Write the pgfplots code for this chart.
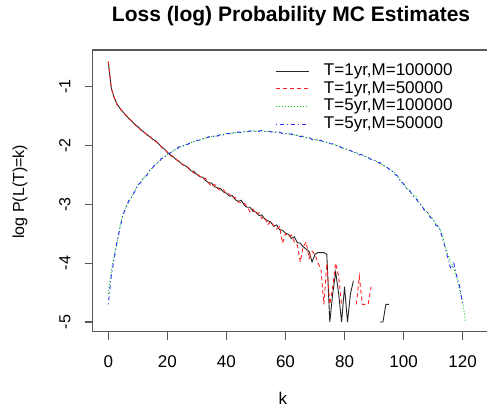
\documentclass[border=0pt]{standalone}
\usepackage{fontspec}
\setmainfont{Liberation Sans}
\usepackage{pgfplots}
\pgfplotsset{compat=1.18}
\definecolor{rgreen}{RGB}{0,205,0}
\definecolor{rblue}{RGB}{40,40,255}
\definecolor{rred}{RGB}{255,30,30}

\begin{document}
\begin{tikzpicture}
\useasboundingbox (0pt,0pt) rectangle (487pt,408pt);
\clip (0pt,0pt) rectangle (487pt,408pt);
\begin{axis}[
    at={(92.7pt,76.3pt)}, anchor=south west,
    scale only axis, width=402.3pt, height=281.7pt,
    xmin=-5.28, xmax=130.95, ymin=-5.165, ymax=-0.376,
    axis line style={black!65, line width=1.2pt},
    tick style={black!65, line width=1.2pt},
    tick align=outside, major tick length=8pt,
    xtick pos=lower, ytick pos=left,
    xtick={0,20,40,60,80,100,120},
    ytick={-5,-4,-3,-2,-1},
    xticklabels={0,20,40,60,80,100,120},
    yticklabels={-5,-4,-3,-2,-1},
    xticklabel style={font=\fontsize{17}{20}\selectfont, anchor=north, inner sep=0pt, yshift=-16pt},
    yticklabel style={font=\fontsize{16}{19}\selectfont, xshift=-14pt, rotate=90, anchor=south, inner sep=0pt},
    title={Loss (log) Probability MC Estimates},
    title style={at={(axis description cs:0.493,1.100)}, anchor=center, inner sep=0pt, font=\bfseries\fontsize{21}{25}\selectfont},
    xlabel={k},
    xlabel style={at={(axis description cs:0.473,-0.236)}, anchor=center, font=\fontsize{17}{20}\selectfont},
    ylabel={log P(L(T)=k)},
    ylabel style={at={(axis description cs:-0.1807,0.497)}, anchor=center, font=\fontsize{16}{19}\selectfont},
    unbounded coords=jump,
    legend cell align=left,
    legend image code/.code={\draw[#1, line width=1pt] (0pt,0pt) -- (33pt,0pt);},
    legend style={draw=none, fill=none, at={(axis description cs:0.4556,0.9538)}, anchor=north west,
        inner sep=0pt, outer sep=0pt, row sep=1.7pt,
        nodes={inner sep=0pt, text height=12.5pt, text depth=3.5pt, font=\fontsize{17}{20}\selectfont},
        /tikz/every odd column/.style={column sep=14pt}},
]
% T=1yr, M=100000
\addplot[black!85, line width=0.9pt, no marks] coordinates {
(0,-0.58) (1,-1.02) (2,-1.19) (3,-1.30) (4,-1.37) (5,-1.43) (6,-1.49) (7,-1.54) (8,-1.59) (9,-1.64)
(10,-1.68) (11,-1.73) (12,-1.77) (13,-1.81) (14,-1.85) (15,-1.89) (16,-1.92) (17,-1.97) (18,-2.02) (19,-2.06)
(20,-2.12) (21,-2.16) (22,-2.19) (23,-2.24) (24,-2.27) (25,-2.32) (26,-2.34) (27,-2.38) (28,-2.43) (29,-2.44)
(30,-2.49) (31,-2.53) (32,-2.54) (33,-2.60) (34,-2.63) (35,-2.64) (36,-2.70) (37,-2.72) (38,-2.73) (39,-2.79)
(40,-2.81) (41,-2.86) (42,-2.85) (43,-2.92) (44,-2.95) (45,-2.93) (46,-3.01) (47,-3.05) (48,-3.05) (49,-3.12)
(50,-3.13) (51,-3.19) (52,-3.18) (53,-3.25) (54,-3.28) (55,-3.30) (56,-3.37) (57,-3.35) (58,-3.43) (59,-3.44)
(60,-3.49) (61,-3.51) (62,-3.58) (63,-3.55) (64,-3.65) (65,-3.66) (66,-3.72) (67,-3.76) (68,-3.80) (69,-3.98)
(70,-3.85) (71,-3.82) (72,-3.82) (73,-3.82) (74,-3.85) (75,-5.00) (76,-4.52) (77,-4.15) (78,-4.52) (79,-5.00)
(80,-4.40) (81,-5.00) (82,-4.52) (83,-4.30) (84,nan) (91,nan) (92,-5.00) (93,-5.00) (94,-4.70) (95,-4.70)
};
\addlegendentry{T=1yr,M=100000}
% T=1yr, M=50000
\addplot[color=rred, line width=0.9pt, dash pattern=on 4pt off 3pt, no marks] coordinates {
(0,-0.57) (1,-1.03) (2,-1.18) (3,-1.31) (4,-1.37) (5,-1.44) (6,-1.48) (7,-1.55) (8,-1.58) (9,-1.65)
(10,-1.68) (11,-1.74) (12,-1.76) (13,-1.82) (14,-1.84) (15,-1.90) (16,-1.93) (17,-1.96) (18,-2.03) (19,-2.07)
(20,-2.11) (21,-2.17) (22,-2.20) (23,-2.23) (24,-2.29) (25,-2.31) (26,-2.36) (27,-2.37) (28,-2.42) (29,-2.47)
(30,-2.48) (31,-2.52) (32,-2.57) (33,-2.56) (34,-2.64) (35,-2.70) (36,-2.66) (37,-2.73) (38,-2.76) (39,-2.75)
(40,-2.83) (41,-2.82) (42,-2.89) (43,-2.88) (44,-2.96) (45,-2.97) (46,-2.98) (47,-3.04) (48,-3.13) (49,-3.08)
(50,-3.16) (51,-3.14) (52,-3.24) (53,-3.22) (54,-3.35) (55,-3.29) (56,-3.36) (57,-3.42) (58,-3.38) (59,-3.66)
(60,-3.50) (61,-3.55) (62,-3.52) (63,-3.64) (64,-3.69) (65,-3.98) (66,-3.72) (67,-3.64) (68,-3.92) (69,-3.80)
(70,-3.85) (71,-4.00) (72,-4.10) (73,-4.70) (74,-4.00) (75,-4.70) (76,-4.40) (77,-4.00) (78,-4.22) (79,-4.70)
(80,nan) (83,nan) (84,-4.70) (85,-4.22) (86,-4.70) (87,-4.70) (88,-4.70) (89,-4.40)
};
\addlegendentry{T=1yr,M=50000}
% T=5yr, M=100000
\addplot[color=rgreen, line width=0.9pt, dash pattern=on 1pt off 2pt, no marks] coordinates {
(0,-4.52) (1,-4.15) (2,-3.87) (3,-3.66) (4,-3.36) (5,-3.16) (6,-3.04) (7,-2.96) (8,-2.86) (9,-2.77)
(10,-2.68) (11,-2.62) (12,-2.55) (13,-2.50) (14,-2.43) (15,-2.37) (16,-2.32) (17,-2.28) (18,-2.23) (19,-2.19)
(20,-2.15) (21,-2.12) (22,-2.09) (23,-2.06) (24,-2.03) (25,-2.01) (26,-1.99) (27,-1.97) (28,-1.95) (29,-1.93)
(30,-1.92) (31,-1.90) (32,-1.89) (33,-1.87) (34,-1.86) (35,-1.85) (36,-1.84) (37,-1.83) (38,-1.82) (39,-1.81)
(40,-1.80) (41,-1.79) (42,-1.79) (43,-1.78) (44,-1.77) (45,-1.77) (46,-1.77) (47,-1.76) (48,-1.76) (49,-1.75)
(50,-1.76) (51,-1.75) (52,-1.75) (53,-1.76) (54,-1.76) (55,-1.76) (56,-1.77) (57,-1.77) (58,-1.78) (59,-1.79)
(60,-1.80) (61,-1.80) (62,-1.81) (63,-1.82) (64,-1.83) (65,-1.84) (66,-1.85) (67,-1.86) (68,-1.87) (69,-1.89)
(70,-1.90) (71,-1.91) (72,-1.92) (73,-1.93) (74,-1.95) (75,-1.96) (76,-1.98) (77,-1.99) (78,-2.01) (79,-2.03)
(80,-2.05) (81,-2.07) (82,-2.09) (83,-2.11) (84,-2.13) (85,-2.15) (86,-2.16) (87,-2.18) (88,-2.21) (89,-2.23)
(90,-2.25) (91,-2.28) (92,-2.30) (93,-2.33) (94,-2.36) (95,-2.39) (96,-2.43) (97,-2.47) (98,-2.53) (99,-2.60)
(100,-2.66) (101,-2.72) (102,-2.77) (103,-2.84) (104,-2.85) (105,-2.95) (106,-3.02) (107,-3.08) (108,-3.14) (109,-3.20)
(110,-3.26) (111,-3.33) (112,-3.40) (113,-3.50) (114,-3.70) (115,-3.85) (116,-3.98) (117,-4.10) (118,-4.25) (119,-4.45)
(120,-4.65) (121,-5.00)
};
\addlegendentry{T=5yr,M=100000}
% T=5yr, M=50000
\addplot[color=rblue, line width=0.9pt, dash pattern=on 1pt off 3pt on 4pt off 3pt, no marks] coordinates {
(0,-4.70) (1,-4.22) (2,-3.92) (3,-3.62) (4,-3.40) (5,-3.18) (6,-3.05) (7,-2.93) (8,-2.87) (9,-2.78)
(10,-2.67) (11,-2.63) (12,-2.54) (13,-2.51) (14,-2.42) (15,-2.38) (16,-2.31) (17,-2.29) (18,-2.22) (19,-2.20)
(20,-2.14) (21,-2.13) (22,-2.08) (23,-2.07) (24,-2.02) (25,-2.02) (26,-1.98) (27,-1.98) (28,-1.94) (29,-1.94)
(30,-1.91) (31,-1.91) (32,-1.88) (33,-1.88) (34,-1.85) (35,-1.86) (36,-1.83) (37,-1.84) (38,-1.81) (39,-1.82)
(40,-1.79) (41,-1.80) (42,-1.78) (43,-1.79) (44,-1.77) (45,-1.78) (46,-1.76) (47,-1.77) (48,-1.75) (49,-1.76)
(50,-1.75) (51,-1.76) (52,-1.74) (53,-1.76) (54,-1.75) (55,-1.77) (56,-1.76) (57,-1.78) (58,-1.77) (59,-1.80)
(60,-1.79) (61,-1.81) (62,-1.80) (63,-1.83) (64,-1.82) (65,-1.85) (66,-1.84) (67,-1.87) (68,-1.86) (69,-1.90)
(70,-1.89) (71,-1.92) (72,-1.91) (73,-1.94) (74,-1.94) (75,-1.97) (76,-1.97) (77,-2.00) (78,-2.00) (79,-2.04)
(80,-2.04) (81,-2.08) (82,-2.08) (83,-2.12) (84,-2.12) (85,-2.16) (86,-2.15) (87,-2.19) (88,-2.20) (89,-2.24)
(90,-2.24) (91,-2.29) (92,-2.29) (93,-2.34) (94,-2.35) (95,-2.40) (96,-2.42) (97,-2.49) (98,-2.52) (99,-2.61)
(100,-2.65) (101,-2.73) (102,-2.76) (103,-2.85) (104,-2.89) (105,-2.96) (106,-3.01) (107,-3.10) (108,-3.13) (109,-3.22)
(110,-3.25) (111,-3.36) (112,-3.38) (113,-3.55) (114,-3.72) (115,-3.92) (116,-4.10) (117,-4.00) (118,-4.22) (119,-4.40)
(120,-4.70)
};
\addlegendentry{T=5yr,M=50000}
\end{axis}
\end{tikzpicture}
\end{document}
